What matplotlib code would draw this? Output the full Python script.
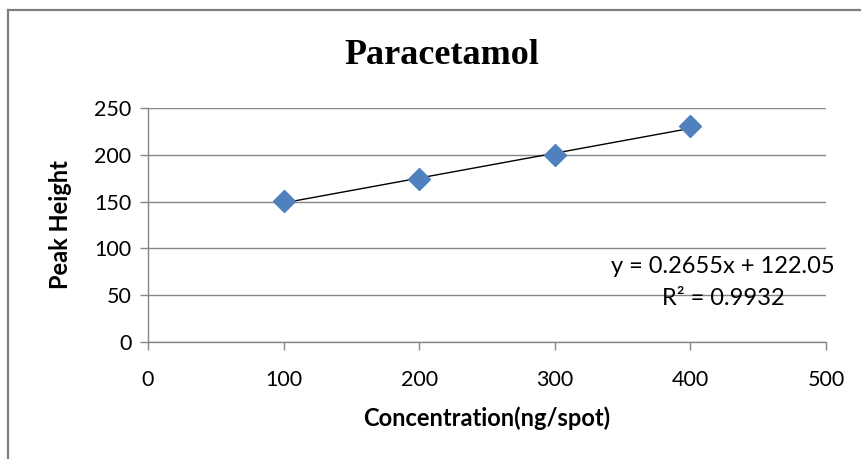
import matplotlib
matplotlib.use('Agg')
import matplotlib.pyplot as plt
from matplotlib.lines import Line2D

# Calibration data
conc = [100, 200, 300, 400]          # ng/spot
peak_height = [151, 174, 200, 231]

# Trendline as printed on the chart
SLOPE = 0.2655
INTERCEPT = 122.05
R2 = 0.9932

x_ticks = [0, 100, 200, 300, 400, 500]
y_ticks = [0, 50, 100, 150, 200, 250]

SANS = ['Lato', 'DejaVu Sans']
SERIF = ['Liberation Serif', 'DejaVu Serif']
GRID = '#868686'

fig = plt.figure(figsize=(8.62, 4.59), dpi=100)
ax = fig.add_axes([148/862, 1 - 342/459, 678/862, 234/459])

# outer chart frame (only top and left visible in the crop)
fig.add_artist(Line2D([8/862, 8/862], [0, 1 - 10/459], transform=fig.transFigure,
                      color='#7f7f7f', lw=1.6))
fig.add_artist(Line2D([8/862, 1], [1 - 10/459, 1 - 10/459], transform=fig.transFigure,
                      color='#7f7f7f', lw=1.6))

# trendline between first and last point
fit_x = [conc[0], conc[-1]]
fit_y = [SLOPE * v + INTERCEPT for v in fit_x]
ax.plot(fit_x, fit_y, color='black', lw=1.0, zorder=3)

ax.plot(conc, peak_height, linestyle='none', marker='D', markersize=11,
        color='#4F81BD', markeredgecolor='#4F81BD', zorder=4)

ax.set_xlim(0, 500)
ax.set_ylim(0, 250)
ax.set_xticks(x_ticks)
ax.set_yticks(y_ticks)
ax.grid(axis='y', color=GRID, lw=1.0)
ax.set_axisbelow(True)

for s in ['top', 'right']:
    ax.spines[s].set_visible(False)
for s in ['left', 'bottom']:
    ax.spines[s].set_color(GRID)
    ax.spines[s].set_linewidth(1.0)

ax.tick_params(axis='both', direction='out', length=6, width=1.0, color=GRID,
               labelsize=15.5, labelcolor='black')
ax.tick_params(axis='x', pad=14)
ax.tick_params(axis='y', pad=6)
for lab in ax.get_xticklabels() + ax.get_yticklabels():
    lab.set_family(SANS)

fig.text(442/862, 1 - 55/459, 'Paracetamol', family=SERIF, fontweight='bold',
         fontsize=26, ha='center', va='center')
ax.set_xlabel('Concentration(ng/spot)', family=SANS, fontweight='bold',
              fontsize=17, labelpad=12)
ax.set_ylabel('Peak Height', family=SANS, fontweight='bold', fontsize=17,
              labelpad=16)

ax.text(424, 81, f'y = {SLOPE}x + {INTERCEPT}', family=SANS, fontsize=17,
        ha='center', va='center')
ax.text(424, 47, f'R² = {R2}', family=SANS, fontsize=17, ha='center', va='center')

fig.savefig('out.png', dpi=100)
